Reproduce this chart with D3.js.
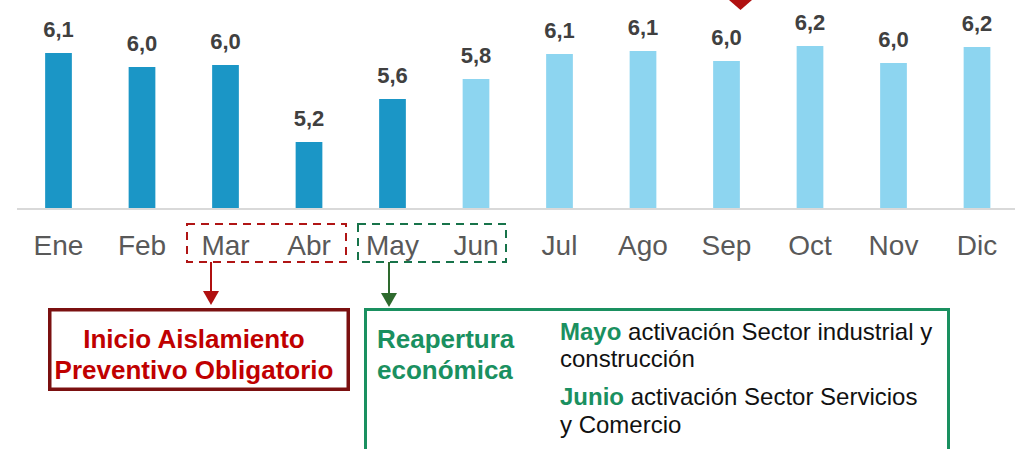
<!doctype html>
<html lang="es">
<head>
  <meta charset="utf-8">
  <title>Tasa mensual</title>
  <script src="https://cdn.jsdelivr.net/npm/d3@7"></script>
  <style>
    html,body{margin:0;padding:0;background:#fff}
    svg{display:block;font-family:"Liberation Sans",Arial,sans-serif}
  </style>
</head>
<body>
<div id="container"></div>
<script>
// datos
var months = ["Ene","Feb","Mar","Abr","May","Jun","Jul","Ago","Sep","Oct","Nov","Dic"];
var values = [6.08, 5.94, 5.96, 5.19, 5.62, 5.82, 6.07, 6.10, 6.00, 6.15, 5.98, 6.14];
var labels = ["6,1","6,0","6,0","5,2","5,6","5,8","6,1","6,1","6,0","6,2","6,0","6,2"];
var phase  = ["a","a","a","a","a","b","b","b","b","b","b","b"];

var W = 1015, H = 449, base = 209;

var svg = d3.select("#container").append("svg").attr("width", W).attr("height", H);

var x = d3.scaleBand().domain(months).range([16.75, 1018.75]).paddingInner(0.68).paddingOuter(0.34);
var y = d3.scaleLinear().domain([4.52, 6.52]).range([base, base - 200]);
var color = d3.scaleOrdinal().domain(["a","b"]).range(["#1b96c6","#8dd5f0"]);

var rows = months.map(function (m, i) { return {m: m, v: values[i], l: labels[i], p: phase[i]}; });

svg.append("g").selectAll("rect").data(rows).enter().append("rect")
    .attr("x", function (d) { return x(d.m); })
    .attr("width", x.bandwidth())
    .attr("y", function (d) { return y(d.v); })
    .attr("height", function (d) { return base - y(d.v); })
    .attr("fill", function (d) { return color(d.p); });

svg.append("g").selectAll("text").data(rows).enter().append("text")
    .attr("x", function (d) { return x(d.m) + x.bandwidth() / 2; })
    .attr("y", function (d) { return y(d.v) - 16; })
    .attr("text-anchor", "middle")
    .attr("font-size", 22).attr("font-weight", "bold").attr("fill", "#404040")
    .text(function (d) { return d.l; });

// eje
var axis = svg.append("g").attr("transform", "translate(0," + base + ")")
    .call(d3.axisBottom(x).tickSize(0).tickPadding(26));
axis.select(".domain").attr("d", "M17,0H1015").attr("stroke", "#d9d9d9").attr("stroke-width", 2);
axis.selectAll("text").attr("font-size", 28).attr("fill", "#595959")
    .attr("font-family", "'Liberation Sans',Arial,sans-serif");

// marcador superior
svg.append("path").attr("d", "M729,0L752,0L740.5,10Z").attr("fill", "#b01010");

// recuadros punteados
svg.append("rect").attr("x", 187).attr("y", 224).attr("width", 159).attr("height", 38)
    .attr("fill", "none").attr("stroke", "#b01515").attr("stroke-width", 2).attr("stroke-dasharray", "8,6");
svg.append("rect").attr("x", 358).attr("y", 224).attr("width", 148).attr("height", 38)
    .attr("fill", "none").attr("stroke", "#17734a").attr("stroke-width", 2).attr("stroke-dasharray", "8,6");

// flechas
function arrow(cx, y0, y1, c) {
  svg.append("line").attr("x1", cx).attr("x2", cx).attr("y1", y0).attr("y2", y1 - 12)
      .attr("stroke", c).attr("stroke-width", 2);
  svg.append("path").attr("d", "M" + (cx - 8) + "," + (y1 - 14) + "L" + (cx + 8) + "," + (y1 - 14) + "L" + cx + "," + y1 + "Z")
      .attr("fill", c);
}
arrow(211, 262, 305, "#b01010");
arrow(389, 262, 307, "#2e6a2e");

// caja roja
svg.append("rect").attr("x", 49.75).attr("y", 309.75).attr("width", 298.5).attr("height", 79.5)
    .attr("fill", "none").attr("stroke", "#7b1010").attr("stroke-width", 3.5);
svg.append("text").attr("x", 194).attr("y", 348).attr("text-anchor", "middle")
    .attr("font-size", 26).attr("font-weight", "bold").attr("fill", "#c00000").text("Inicio Aislamiento");
svg.append("text").attr("x", 194).attr("y", 379).attr("text-anchor", "middle")
    .attr("font-size", 26).attr("font-weight", "bold").attr("fill", "#c00000").text("Preventivo Obligatorio");

// caja verde
svg.append("path").attr("d", "M365.5,460V309.5H948.5V460")
    .attr("fill", "none").attr("stroke", "#1a9060").attr("stroke-width", 3);
svg.append("text").attr("x", 377).attr("y", 348)
    .attr("font-size", 26).attr("font-weight", "bold").attr("fill", "#1a9060").text("Reapertura");
svg.append("text").attr("x", 377).attr("y", 379)
    .attr("font-size", 26).attr("font-weight", "bold").attr("fill", "#1a9060").text("económica");

var notes = [
  {b: "Mayo", t: " activación Sector industrial y", y: 340},
  {b: "", t: "construcción", y: 367},
  {b: "Junio", t: " activación Sector Servicios", y: 405},
  {b: "", t: "y Comercio", y: 433}
];
notes.forEach(function (n) {
  var t = svg.append("text").attr("x", 560).attr("y", n.y).attr("font-size", 24).attr("fill", "#111");
  if (n.b) t.append("tspan").attr("font-weight", "bold").attr("fill", "#1a9060").text(n.b);
  t.append("tspan").text(n.t);
});
</script>
</body>
</html>
